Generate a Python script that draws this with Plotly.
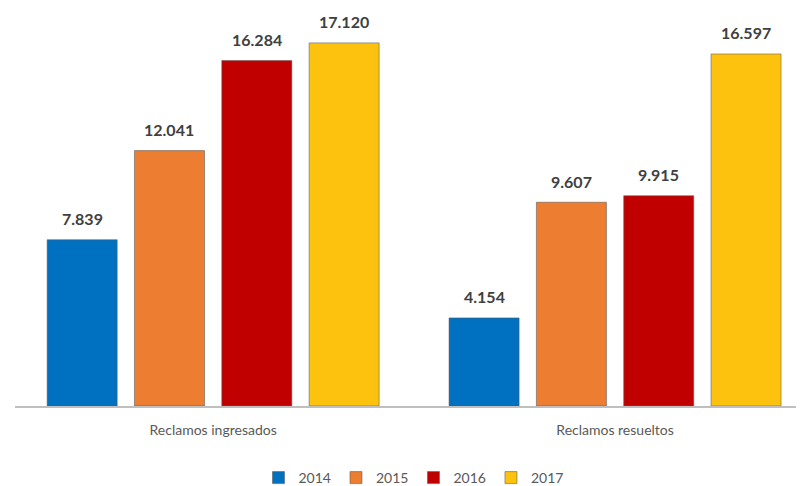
import plotly.graph_objects as go

categories = ["Reclamos ingresados", "Reclamos resueltos"]
years = ["2014", "2015", "2016", "2017"]
values_2014 = [7839, 4154]
values_2015 = [12041, 9607]
values_2016 = [16284, 9915]
values_2017 = [17120, 16597]
colors = ["#0070C0", "#ED7D31", "#C00000", "#FCC20E"]

series = [values_2014, values_2015, values_2016, values_2017]

BARGAP = 0.131
BARGROUPGAP = 0.198

fig = go.Figure()
for year, vals, col in zip(years, series, colors):
    fig.add_trace(go.Bar(
        name=year,
        x=categories,
        y=vals,
        marker=dict(color=col, line=dict(color="rgba(90,90,90,0.55)", width=1)),
    ))

# value labels, placed over the centre of each bar in data coordinates
slot = (1 - BARGAP) / len(series)
for i, vals in enumerate(series):
    for j, v in enumerate(vals):
        fig.add_annotation(
            x=j + (i - (len(series) - 1) / 2) * slot,
            y=v,
            text=f"{v:,}".replace(",", "."),
            showarrow=False,
            yanchor="middle",
            yshift=21,
            font=dict(family="Lato", size=16, color="#404040", weight="bold"),
        )

fig.update_layout(
    width=804,
    height=486,
    barmode="group",
    bargap=BARGAP,
    bargroupgap=BARGROUPGAP,
    plot_bgcolor="white",
    paper_bgcolor="white",
    margin=dict(l=7, r=0, t=14, b=87),
    font=dict(family="Lato", color="#595959"),
    showlegend=True,
    legend=dict(
        orientation="h",
        x=0.5, xanchor="center",
        y=-0.187, yanchor="middle",
        font=dict(size=14, color="#595959"),
        itemwidth=30,
        traceorder="normal",
    ),
    xaxis=dict(
        range=[-0.493, 1.490],
        showline=True,
        linecolor="#BFBFBF",
        linewidth=2,
        ticks="",
        tickfont=dict(size=14, color="#595959"),
        ticklabelstandoff=10,
    ),
    yaxis=dict(
        range=[0, 18105],
        visible=False,
        showgrid=False,
    ),
)

fig.write_html("out.html")
